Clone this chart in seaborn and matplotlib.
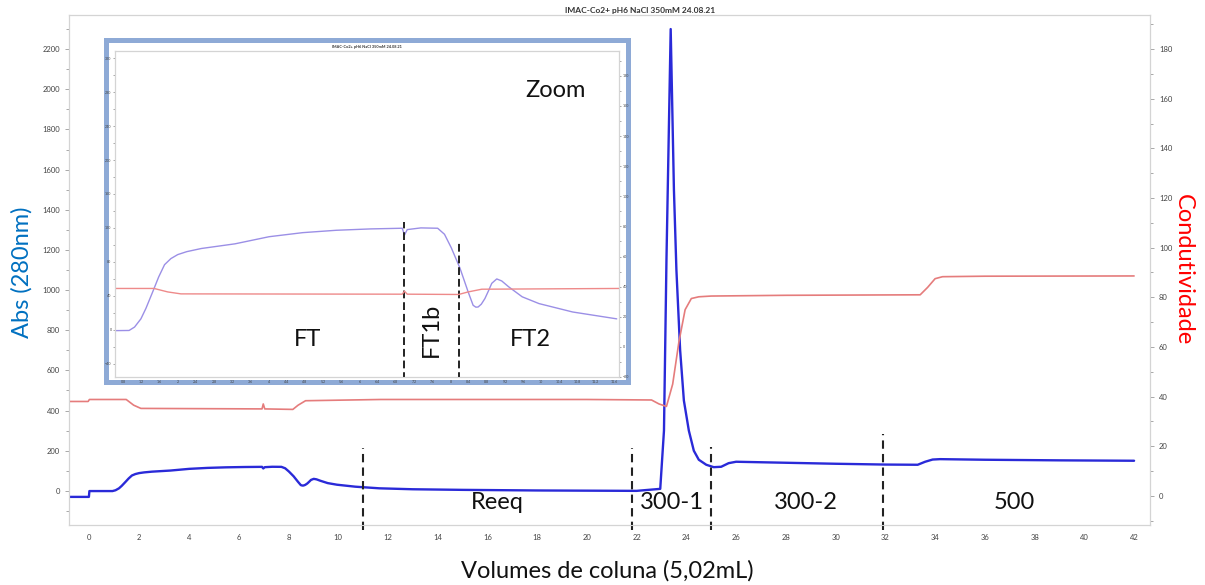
import matplotlib
matplotlib.use("Agg")
import matplotlib.pyplot as plt
import matplotlib.patches as mpatches
from matplotlib.ticker import MultipleLocator, FormatStrFormatter
import seaborn as sns

# ---------------- data ----------------
title_text = "IMAC-Co2+ pH6 NaCl 350mM 24.08.21"

# main chart: UV absorbance (left axis)
abs_x = [-0.82, -0.02, 0.0, 0.62, 0.93, 1.05, 1.19, 1.30, 1.45, 1.58, 1.71, 1.85, 2.0,
         2.2, 2.52, 3.26, 4.01, 4.75, 5.49, 6.24, 6.94, 6.99, 7.05, 7.35, 7.72, 7.87,
         8.02, 8.21, 8.39, 8.50, 8.56, 8.61, 8.68, 8.76, 8.84, 8.91, 9.02, 9.13, 9.28,
         9.58, 9.95, 10.69, 11.66, 13.0, 15.0, 18.0, 22.0, 22.95, 23.1, 23.2, 23.37, 23.5,
         23.6, 23.75, 23.9, 24.1, 24.3, 24.5, 24.8, 25.1, 25.4, 25.7, 26.0, 28.0, 30.0,
         32.0, 33.3, 33.6, 33.9, 34.2, 36.0, 39.0, 42.0]
abs_y = [-30, -30, -1, -1, -1, 3, 12.7, 25, 44.6, 62, 76.6, 83.8, 88.5,
         92, 95.7, 101.2, 109.6, 114.4, 117.2, 118.8, 119.6, 111.6, 118, 120, 119.6, 112.5,
         96.5, 72.6, 44.6, 28.7, 26.5, 26.7, 30, 36.7, 46, 54.6, 59.8, 57.4, 50.6,
         38.7, 30.7, 20.8, 12.7, 8, 5, 2, 0, 10, 300, 1150, 2300, 1500,
         1100, 700, 450, 300, 200, 155, 130, 118, 120, 138, 145, 140, 135,
         131, 130, 145, 156, 158, 155, 152, 150]

# main chart: conductivity (right axis)
cond_x = [-0.82, -0.05, 0.0, 0.62, 1.48, 1.78, 2.07, 6.94, 6.99, 7.05, 8.18, 8.39, 8.69,
          11.71, 15.0, 20.0, 22.6, 22.9, 23.2, 23.45, 23.7, 23.95, 24.2, 24.5, 25.0, 28.0,
          33.4, 33.7, 34.0, 34.3, 36.0, 42.0]
cond_y = [38.0, 38.0, 38.8, 38.8, 38.8, 36.5, 35.2, 35.0, 37.0, 35.0, 34.8, 36.5, 38.3,
          38.8, 38.8, 38.8, 38.6, 37.0, 36.0, 45.0, 62.0, 75.0, 79.5, 80.2, 80.5, 80.8,
          81.0, 84.0, 87.5, 88.3, 88.5, 88.6]

# zoom inset data
zoom_abs_x = [0.62, 0.93, 1.05, 1.19, 1.30, 1.45, 1.58, 1.71, 1.85, 2.0, 2.2, 2.52, 3.26,
              4.01, 4.75, 5.49, 6.24, 6.94, 6.99, 7.05, 7.35, 7.72, 7.87, 8.02, 8.21, 8.39,
              8.50, 8.56, 8.61, 8.68, 8.76, 8.84, 8.91, 9.02, 9.13, 9.28, 9.58, 9.95,
              10.69, 11.66]
zoom_abs_y = [-1.2, -1, 3, 12.7, 25, 44.6, 62, 76.6, 83.8, 88.5, 92, 95.7, 101.2,
              109.6, 114.4, 117.2, 118.8, 119.6, 111.6, 118, 120, 119.6, 112.5, 96.5, 72.6, 44.6,
              28.7, 26.5, 26.7, 30, 36.7, 46, 54.6, 59.8, 57.4, 50.6, 38.7, 30.7,
              20.8, 12.7]
zoom_cond_x = [0.62, 1.48, 1.78, 2.07, 6.94, 6.99, 7.05, 8.18, 8.39, 8.69, 11.71]
zoom_cond_y = [38.8, 38.8, 36.5, 35.2, 35.0, 37.0, 35.0, 34.8, 36.5, 38.3, 38.8]

# fraction boundaries (main) and their top values
frac_x = [10.98, 21.8, 25.0, 31.9]
frac_top = [214, 214, 219, 284]
frac_labels = ["Reeq", "300-1", "300-2", "500"]
frac_label_x = [16.4, 23.4, 28.8, 37.2]

# fraction boundaries (zoom)
zoom_frac_x = [6.98, 8.18]
zoom_frac_top = [126.4, 102.4]
zoom_labels = ["FT", "FT1b", "FT2"]
zoom_label_x = [4.85, 7.59, 9.77]

# ---------------- style ----------------
sns.set_style("white")
plt.rcParams['font.family'] = ['Lato', 'DejaVu Sans']

W, H = 1205, 585
fig = plt.figure(figsize=(W / 100, H / 100), dpi=100)

def fr(x0, y0, x1, y1):
    return [x0 / W, 1 - y1 / H, (x1 - x0) / W, (y1 - y0) / H]

spine_c = "#d4d4d4"
tick_c = "#9a9a9a"
lab_c = "#444444"

def style_axes(a, size, length):
    for s in a.spines.values():
        s.set_color(spine_c)
        s.set_linewidth(0.8)
    a.tick_params(which="both", direction="out", color=tick_c, labelcolor=lab_c,
                  labelsize=size, width=0.6)
    a.tick_params(which="major", length=length)
    a.tick_params(which="minor", length=length * 0.8)

# main axes
ax = fig.add_axes(fr(69, 15, 1150, 525))
ax2 = ax.twinx()
ax.set_zorder(0)
ax2.set_zorder(0.5)

sns.lineplot(x=abs_x, y=abs_y, ax=ax, color="#2a2ad8", linewidth=1.7, sort=False,
             estimator=None)
sns.lineplot(x=cond_x, y=cond_y, ax=ax2, color="#e57c7c", linewidth=1.2, sort=False,
             estimator=None)

ax.set_xlim(-0.82, 42.64)
ax.set_ylim(-170, 2370)
ax2.set_ylim(-11.8, 193.8)
ax.xaxis.set_major_locator(MultipleLocator(2))
ax.xaxis.set_minor_locator(MultipleLocator(1))
ax.yaxis.set_major_locator(MultipleLocator(200))
ax.yaxis.set_minor_locator(MultipleLocator(100))
ax2.yaxis.set_major_locator(MultipleLocator(20))
ax2.yaxis.set_minor_locator(MultipleLocator(10))
for a in (ax, ax2):
    style_axes(a, 5.5, 3)
    a.set_xlabel("")
    a.set_ylabel("")
    a.grid(False)

for xv, top in zip(frac_x, frac_top):
    ax.plot([xv, xv], [-195, top], color="#222222", lw=1.5, ls=(0, (4, 2.5)),
            clip_on=False, zorder=5)
for lbl, xv in zip(frac_labels, frac_label_x):
    ax.text(xv, -60, lbl, ha="center", va="center", fontsize=17, color="#111111")

fig.text(640 / W, 1 - 11 / H, title_text, ha="center", va="center", fontsize=6,
         fontweight="bold", color="#333333")
fig.text(22 / W, 1 - 272 / H, "Abs (280nm)", rotation=90, ha="center", va="center",
         fontsize=17, color="#0070C0")
fig.text(1183 / W, 1 - 270 / H, "Condutividade", rotation=-90, ha="center", va="center",
         fontsize=17, color="#FF0000")
fig.text(607 / W, 1 - 571 / H, "Volumes de coluna (5,02mL)", ha="center", va="center",
         fontsize=17, color="#111111")

# inset frame
rect = mpatches.Rectangle((106 / W, 1 - 382 / H), 522 / W, 342 / H,
                          transform=fig.transFigure, facecolor="white",
                          edgecolor="#8eaad6", linewidth=3.6, zorder=1)
fig.patches.append(rect)

ins = fig.add_axes(fr(115, 51, 619, 377))
ins.set_zorder(2)
ins2 = ins.twinx()
ins2.set_zorder(3)

sns.lineplot(x=zoom_abs_x, y=zoom_abs_y, ax=ins, color="#9b8fe6", linewidth=1.0,
             sort=False, estimator=None)
sns.lineplot(x=zoom_cond_x, y=zoom_cond_y, ax=ins2, color="#ee8a8a", linewidth=1.0,
             sort=False, estimator=None)
ins.set_xlim(0.62, 11.71)
ins.set_ylim(-55.9, 328.7)
ins2.set_ylim(-20, 196.5)
ins.xaxis.set_major_locator(MultipleLocator(0.4))
ins.xaxis.set_minor_locator(MultipleLocator(0.2))
ins.xaxis.set_major_formatter(FormatStrFormatter("%g"))
ins.yaxis.set_major_locator(MultipleLocator(40))
ins.yaxis.set_minor_locator(MultipleLocator(20))
ins2.yaxis.set_major_locator(MultipleLocator(20))
ins2.yaxis.set_minor_locator(MultipleLocator(10))
for a in (ins, ins2):
    style_axes(a, 2.6, 1.5)
    a.tick_params(pad=1)
    a.set_xlabel("")
    a.set_ylabel("")
    a.grid(False)
ins.set_title(title_text, fontsize=2.8, fontweight="bold", color="#333333", pad=2)

for xv, top in zip(zoom_frac_x, zoom_frac_top):
    ins.plot([xv, xv], [-60, top], color="#222222", lw=1.4, ls=(0, (4, 2)), zorder=5)
ins.text(zoom_label_x[0], -12, zoom_labels[0], ha="center", va="center", fontsize=17,
         color="#111111")
ins.text(zoom_label_x[1], 0, zoom_labels[1], ha="center", va="center", fontsize=17,
         rotation=90, color="#111111")
ins.text(zoom_label_x[2], -12, zoom_labels[2], ha="center", va="center", fontsize=17,
         color="#111111")
ins.text(10.32, 282, "Zoom", ha="center", va="center", fontsize=17, color="#111111")

fig.savefig("out.png", dpi=100)
